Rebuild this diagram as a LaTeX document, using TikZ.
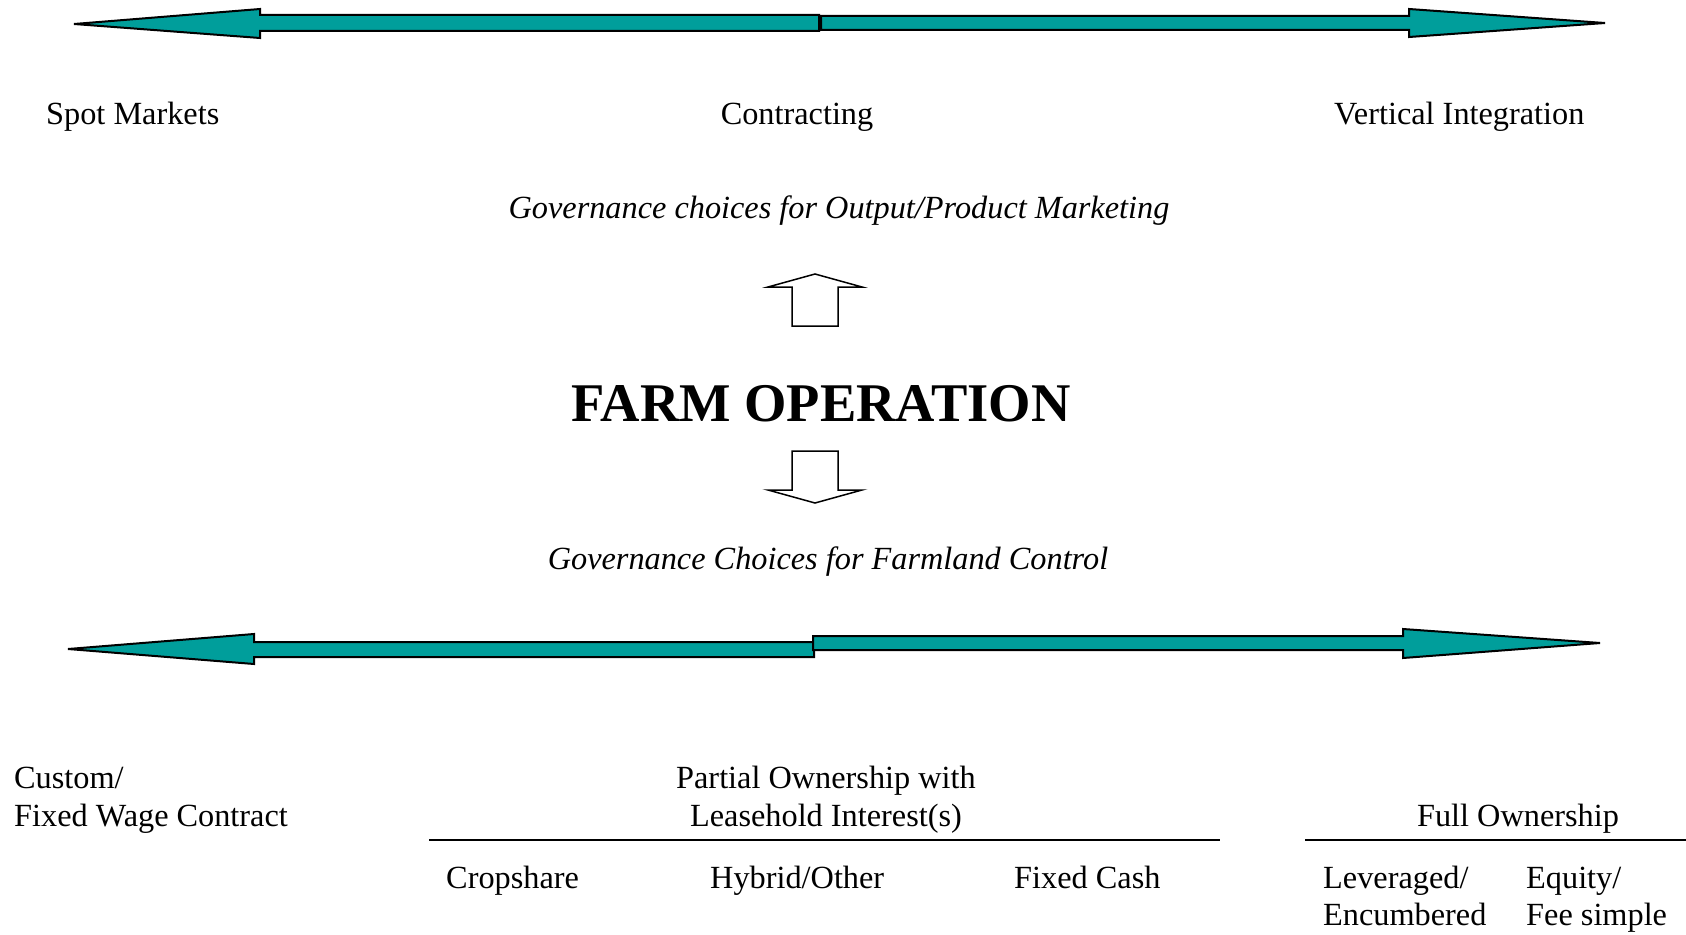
\documentclass[tikz,border=0pt]{standalone}
\usepackage{fontspec}
\setmainfont{Liberation Serif}
\definecolor{teal1}{RGB}{0,158,155}
\begin{document}
\begin{tikzpicture}[x=1pt,y=-1pt,
  lbl/.style={inner sep=0pt,font=\fontsize{32.3}{38}\selectfont},
  itl/.style={inner sep=0pt,font=\fontsize{32.3}{38}\selectfont\itshape},
  bigarrow/.style={fill=teal1,draw=black,line width=2pt,line join=miter},
  blockarrow/.style={fill=white,draw=black,line width=1.5pt,line join=miter},
  rule/.style={draw=black,line width=1.3pt}]
\useasboundingbox (0,0) rectangle (1686,934);
% top arrows
\draw[bigarrow] (74,24) -- (260,9) -- (260,15) -- (819,15) -- (819,31) -- (260,31) -- (260,38) -- cycle;
\draw[bigarrow] (821,16) -- (1409,16) -- (1409,9) -- (1605,23) -- (1409,37) -- (1409,30) -- (821,30) -- cycle;
% bottom arrows
\draw[bigarrow] (68,649) -- (254,634) -- (254,642) -- (814,642) -- (814,657) -- (254,657) -- (254,664) -- cycle;
\draw[bigarrow] (813,636) -- (1403,636) -- (1403,629) -- (1600,643) -- (1403,658) -- (1403,650) -- (813,650) -- cycle;
% block arrows
\draw[blockarrow] (815,274) -- (862,287) -- (838,287) -- (838,326) -- (792,326) -- (792,287) -- (768,287) -- cycle;
\draw[blockarrow] (792,451) -- (838,451) -- (838,490) -- (862,490) -- (815,503) -- (768,490) -- (792,490) -- cycle;
% top labels
\node[lbl,anchor=base west] (spot) at (46,124) {Spot Markets};
\node[lbl,anchor=base] (contr) at (797,124) {Contracting};
\node[lbl,anchor=base west] (vert) at (1334,124) {Vertical Integration};
\node[itl,anchor=base] (gov1) at (839,218) {Governance choices for Output/Product Marketing};
\node[inner sep=0pt,anchor=base,font=\fontsize{54.5}{60}\selectfont\bfseries] (farm) at (821,421) {FARM OPERATION};
\node[itl,anchor=base] (gov2) at (828,569) {Governance Choices for Farmland Control};
% bottom labels
\node[lbl,anchor=base west] (cust1) at (14,788) {Custom/};
\node[lbl,anchor=base west] (cust2) at (14,826) {Fixed Wage Contract};
\node[lbl,anchor=base] (part1) at (826,788) {Partial Ownership with};
\node[lbl,anchor=base] (part2) at (826,826) {Leasehold Interest(s)};
\node[lbl,anchor=base] (full) at (1518,826) {Full Ownership};
\draw[rule] (429,840) -- (1220,840);
\draw[rule] (1305,840) -- (1686,840);
\node[lbl,anchor=base west] (crop) at (446,888) {Cropshare};
\node[lbl,anchor=base west] (hyb) at (710,888) {Hybrid/Other};
\node[lbl,anchor=base west] (cash) at (1014,888) {Fixed Cash};
\node[lbl,anchor=base west] (lev1) at (1323,888) {Leveraged/};
\node[lbl,anchor=base west] (lev2) at (1323,925) {Encumbered};
\node[lbl,anchor=base west] (eq1) at (1526,888) {Equity/};
\node[lbl,anchor=base west] (eq2) at (1526,925) {Fee simple};
\end{tikzpicture}
\end{document}
